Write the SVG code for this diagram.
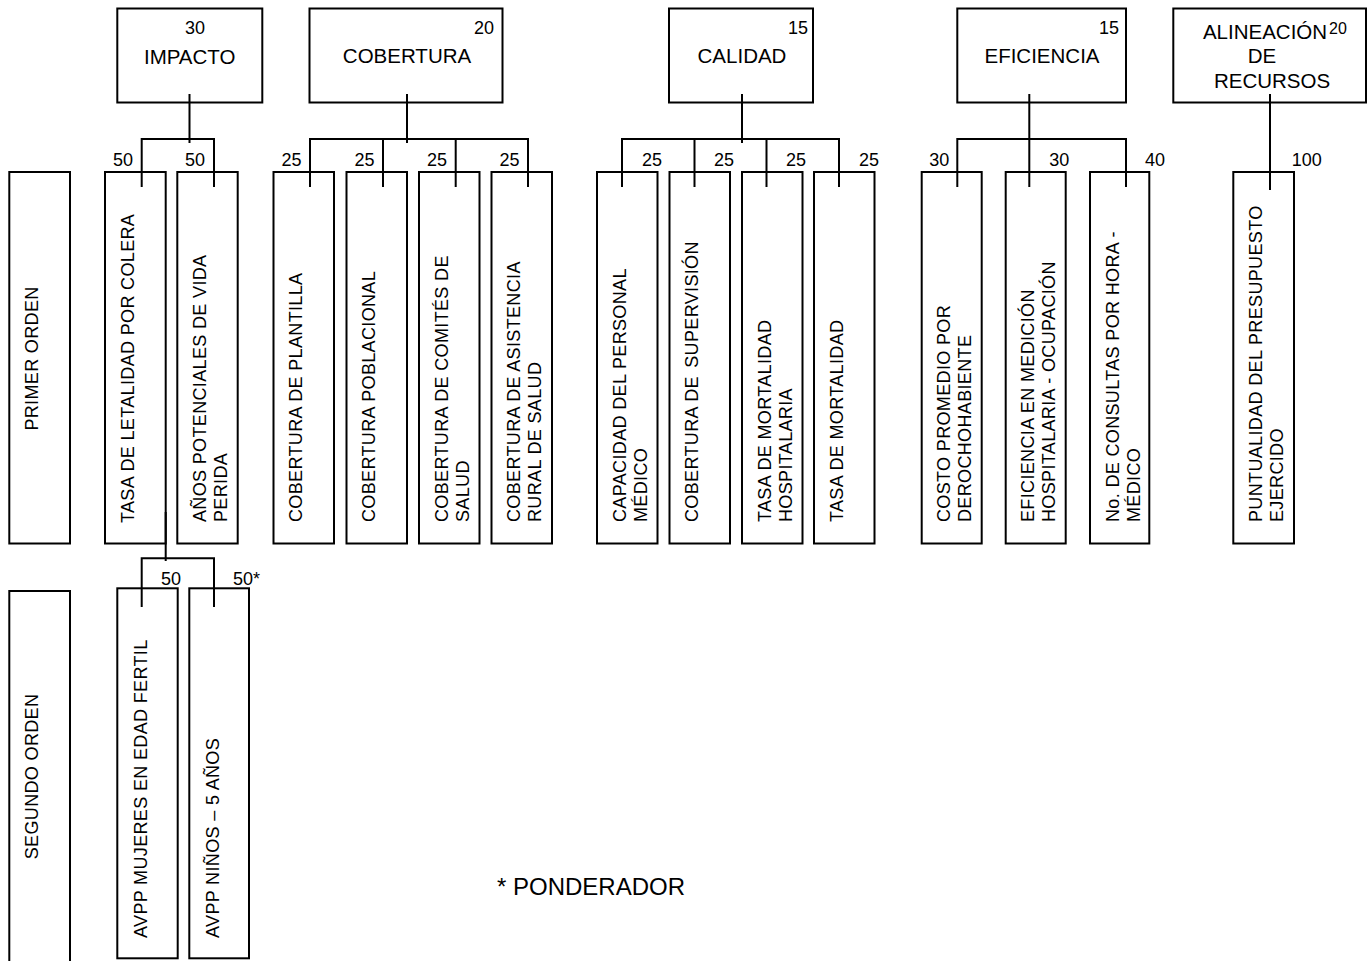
<svg xmlns="http://www.w3.org/2000/svg" width="1369" height="961" viewBox="0 0 1369 961">
  <style>
    .box{fill:#fff;stroke:#000;stroke-width:2}
    .wire{fill:none;stroke:#000;stroke-width:2}
    text{font-family:"Liberation Sans",Arial,sans-serif;fill:#000}
    .hd{font-size:20.5px;text-anchor:middle}
    .wt{font-size:18px}
    .end{text-anchor:end}
    .vt{font-size:18px;letter-spacing:0.35px}
    .mid{text-anchor:middle}
  </style>
  <rect width="1369" height="961" fill="#fff"/>

  <!-- Level 0: criteria -->
  <g id="impacto">
    <rect class="box" x="117.3" y="8.5" width="145" height="94"/>
    <text class="wt" x="185" y="34">30</text>
    <text class="hd" x="189.7" y="64">IMPACTO</text>
  </g>
  <g id="cobertura">
    <rect class="box" x="309.5" y="8.5" width="193" height="94"/>
    <text class="wt" x="474" y="33.5">20</text>
    <text class="hd" x="407" y="63">COBERTURA</text>
  </g>
  <g id="calidad">
    <rect class="box" x="669" y="8.5" width="144" height="94"/>
    <text class="wt" x="788" y="33.5">15</text>
    <text class="hd" x="742" y="63">CALIDAD</text>
  </g>
  <g id="eficiencia">
    <rect class="box" x="957.3" y="8.5" width="168.7" height="94"/>
    <text class="wt" x="1099" y="33.5">15</text>
    <text class="hd" x="1042" y="63">EFICIENCIA</text>
  </g>
  <g id="alineacion">
    <rect class="box" x="1173.3" y="8.5" width="192.7" height="94"/>
    <text style="font-size:16px" x="1329" y="34.3">20</text>
    <text class="hd" x="1265" y="38.7">ALINEACIÓN</text>
    <text class="hd" x="1262" y="63.3">DE</text>
    <text class="hd" x="1272" y="88.3">RECURSOS</text>
  </g>

  <!-- Row labels -->
  <g id="primer-orden">
    <rect class="box" x="9.3" y="172" width="60.7" height="371.5"/>
    <text class="vt mid" transform="translate(37.5,358.5) rotate(-90)">PRIMER ORDEN</text>
  </g>
  <g id="segundo-orden">
    <rect class="box" x="9.3" y="591" width="60.7" height="400"/>
    <text class="vt mid" transform="translate(38,776.5) rotate(-90)">SEGUNDO ORDEN</text>
  </g>

  <!-- Level 1: indicators -->
  <g id="tasa-letalidad">
    <rect class="box" x="105" y="172" width="60.7" height="371.5"/>
    <text class="vt" transform="translate(133.5,523) rotate(-90)">TASA DE LETALIDAD POR COLERA</text>
  </g>
  <g id="anos-potenciales">
    <rect class="box" x="177.3" y="172" width="60.4" height="371.5"/>
    <text class="vt" transform="translate(206,522) rotate(-90)">AÑOS POTENCIALES DE VIDA<tspan x="0" dy="21">PERIDA</tspan></text>
  </g>
  <g id="cob-plantilla">
    <rect class="box" x="273.5" y="172" width="60.5" height="371.5"/>
    <text class="vt" transform="translate(302,522) rotate(-90)">COBERTURA DE PLANTILLA</text>
  </g>
  <g id="cob-poblacional">
    <rect class="box" x="346.5" y="172" width="60.5" height="371.5"/>
    <text class="vt" transform="translate(375,522) rotate(-90)">COBERTURA POBLACIONAL</text>
  </g>
  <g id="cob-comites">
    <rect class="box" x="419" y="172" width="60.5" height="371.5"/>
    <text class="vt" transform="translate(447.5,522) rotate(-90)">COBERTURA DE COMITÉS DE<tspan x="0" dy="21">SALUD</tspan></text>
  </g>
  <g id="cob-asistencia">
    <rect class="box" x="491.5" y="172" width="60.5" height="371.5"/>
    <text class="vt" transform="translate(520,522) rotate(-90)">COBERTURA DE ASISTENCIA<tspan x="0" dy="21">RURAL DE SALUD</tspan></text>
  </g>
  <g id="capacidad">
    <rect class="box" x="597" y="172" width="60.5" height="371.5"/>
    <text class="vt" transform="translate(625.5,522) rotate(-90)">CAPACIDAD DEL PERSONAL<tspan x="0" dy="21">MÉDICO</tspan></text>
  </g>
  <g id="supervision">
    <rect class="box" x="669.5" y="172" width="60.5" height="371.5"/>
    <text class="vt" transform="translate(698,522) rotate(-90)">COBERTURA DE <tspan dx="3">SUPERVISIÓN</tspan></text>
  </g>
  <g id="mort-hospitalaria">
    <rect class="box" x="742" y="172" width="60.5" height="371.5"/>
    <text class="vt" transform="translate(770.5,522) rotate(-90)">TASA DE MORTALIDAD<tspan x="0" dy="21">HOSPITALARIA</tspan></text>
  </g>
  <g id="mortalidad">
    <rect class="box" x="814" y="172" width="60.5" height="371.5"/>
    <text class="vt" transform="translate(842.5,522) rotate(-90)">TASA DE MORTALIDAD</text>
  </g>
  <g id="costo-promedio">
    <rect class="box" x="921.7" y="172" width="60" height="371.5"/>
    <text class="vt" transform="translate(950,522) rotate(-90)">COSTO PROMEDIO POR<tspan x="0" dy="21">DEROCHOHABIENTE</tspan></text>
  </g>
  <g id="eficiencia-medicion">
    <rect class="box" x="1005.7" y="172" width="60" height="371.5"/>
    <text class="vt" transform="translate(1034,522) rotate(-90)">EFICIENCIA EN MEDICIÓN<tspan x="0" dy="21">HOSPITALARIA - OCUPACIÓN</tspan></text>
  </g>
  <g id="consultas">
    <rect class="box" x="1090" y="172" width="59.3" height="371.5"/>
    <text class="vt" transform="translate(1118.5,522) rotate(-90)">No. DE CONSULTAS POR HORA -<tspan x="0" dy="21">MÉDICO</tspan></text>
  </g>
  <g id="puntualidad">
    <rect class="box" x="1233.3" y="172" width="60.7" height="371.5"/>
    <text class="vt" transform="translate(1262,522) rotate(-90)">PUNTUALIDAD DEL PRESUPUESTO<tspan x="0" dy="21">EJERCIDO</tspan></text>
  </g>

  <!-- Level 2: sub-indicators -->
  <g id="avpp-mujeres">
    <rect class="box" x="117.3" y="588.3" width="60.4" height="370"/>
    <text class="vt" transform="translate(147,938) rotate(-90)">AVPP MUJERES EN EDAD FERTIL</text>
  </g>
  <g id="avpp-ninos">
    <rect class="box" x="189.3" y="588.3" width="59.7" height="370"/>
    <text class="vt" transform="translate(219,938) rotate(-90)">AVPP NIÑOS – 5 AÑOS</text>
  </g>

  <!-- Connectors -->
  <g id="connectors" class="wire">
    <path d="M189.5,94 V143 M141.7,187 V139 H214 V187"/>
    <path d="M407,94 V143 M310,187 V139 H528 V187 M383,139 V187 M455.7,139 V187"/>
    <path d="M742,94 V143 M622,187 V139 H839 V187 M694.5,139 V187 M766.5,139 V187"/>
    <path d="M1029.3,94 V187 M957.3,187 V139 H1126 V187"/>
    <path d="M1270,94 V190"/>
    <path d="M165.7,512 V561 M141.7,607 V558.3 H214 V607"/>
  </g>

  <!-- Weights -->
  <g id="weights" class="wt">
    <text class="end" x="133" y="166">50</text>
    <text class="end" x="205" y="166">50</text>
    <text class="end" x="301.5" y="166">25</text>
    <text class="end" x="374.5" y="166">25</text>
    <text class="end" x="447" y="166">25</text>
    <text class="end" x="519.5" y="166">25</text>
    <text x="642" y="166">25</text>
    <text x="714" y="166">25</text>
    <text x="786" y="166">25</text>
    <text x="859" y="166">25</text>
    <text x="929.3" y="166">30</text>
    <text x="1049.3" y="166">30</text>
    <text x="1145" y="166">40</text>
    <text x="1291.7" y="166">100</text>
    <text x="161" y="585">50</text>
    <text x="233" y="585">50*</text>
  </g>

  <text id="nota" x="497" y="895" style="font-size:24px">* PONDERADOR</text>
</svg>
